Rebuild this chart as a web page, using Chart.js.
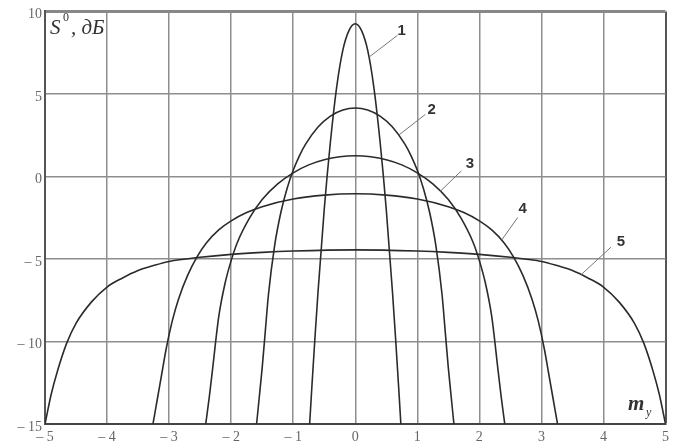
<!DOCTYPE html>
<html>
<head>
<meta charset="utf-8">
<style>
  html, body { margin: 0; padding: 0; background: #fff; }
  #wrap { width: 674px; height: 445px; }
</style>
</head>
<body>
<div id="wrap"><canvas id="c" width="674" height="445"></canvas></div>
<script src="https://cdn.jsdelivr.net/npm/chart.js@4/dist/chart.umd.min.js"></script>
<script>
// Normalised spectral level S0 (dB) versus m_y for five cases
const curve1X = [-0.735, -0.7, -0.65, -0.6, -0.5, -0.4, -0.3, -0.2, -0.1, 0, 0.1, 0.2, 0.3, 0.4, 0.5, 0.6, 0.65, 0.7, 0.735];
const curve1Y = [-15, -12.8, -9.8, -7.0, -2.0, 2.1, 5.4, 7.65, 8.85, 9.25, 8.85, 7.65, 5.4, 2.1, -2.0, -7.0, -9.8, -12.8, -15];

const curve2X = [-1.59, -1.55, -1.5, -1.45, -1.4, -1.3, -1.2, -1.1, -1.0, -0.9, -0.8, -0.6, -0.4, -0.2, 0, 0.2, 0.4, 0.6, 0.8, 0.9, 1.0, 1.1, 1.2, 1.3, 1.4, 1.45, 1.5, 1.55, 1.59];
const curve2Y = [-15, -13.5, -11.6, -9.4, -7.2, -4.2, -2.2, -0.75, 0.37, 1.25, 1.96, 3.0, 3.66, 4.03, 4.15, 4.03, 3.66, 3.0, 1.96, 1.25, 0.37, -0.75, -2.2, -4.2, -7.2, -9.4, -11.6, -13.5, -15];

const curve3X = [-2.41, -2.35, -2.3, -2.2, -2.1, -2.0, -1.9, -1.7, -1.5, -1.25, -1.0, -0.75, -0.5, -0.25, 0, 0.25, 0.5, 0.75, 1.0, 1.25, 1.5, 1.7, 1.9, 2.0, 2.1, 2.2, 2.3, 2.35, 2.41];
const curve3Y = [-15, -13.3, -11.7, -8.5, -6.5, -5.1, -4.0, -2.5, -1.4, -0.45, 0.22, 0.7, 1.01, 1.19, 1.25, 1.19, 1.01, 0.7, 0.22, -0.45, -1.4, -2.5, -4.0, -5.1, -6.5, -8.5, -11.7, -13.3, -15];

const curve4X = [-3.26, -3.19, -3.12, -3.05, -2.95, -2.85, -2.7, -2.55, -2.4, -2.2, -2.0, -1.75, -1.5, -1.0, -0.5, 0, 0.5, 1.0, 1.5, 1.75, 2.0, 2.2, 2.4, 2.55, 2.7, 2.85, 2.95, 3.05, 3.12, 3.19, 3.26];
const curve4Y = [-15, -13.5, -12.0, -10.5, -8.77, -7.45, -5.98, -4.87, -4.03, -3.24, -2.69, -2.19, -1.83, -1.37, -1.13, -1.05, -1.13, -1.37, -1.83, -2.19, -2.69, -3.24, -4.03, -4.87, -5.98, -7.45, -8.77, -10.5, -12.0, -13.5, -15];

const curve5X = [-5.0, -4.9, -4.8, -4.65, -4.5, -4.25, -4.0, -3.75, -3.5, -3.25, -3.0, -2.5, -2.0, -1.5, -1.0, 0, 1.0, 1.5, 2.0, 2.5, 3.0, 3.25, 3.5, 3.75, 4.0, 4.25, 4.5, 4.65, 4.8, 4.9, 5.0];
const curve5Y = [-15, -13.2, -11.8, -10.1, -8.9, -7.6, -6.7, -6.15, -5.7, -5.4, -5.15, -4.9, -4.72, -4.6, -4.52, -4.45, -4.52, -4.6, -4.72, -4.9, -5.15, -5.4, -5.7, -6.15, -6.7, -7.6, -8.9, -10.1, -11.8, -13.2, -15];

const curveNames = ['1', '2', '3', '4', '5'];
const xTicks = [-5, -4, -3, -2, -1, 0, 1, 2, 3, 4, 5];
const yTicks = [-15, -10, -5, 0, 5, 10];

// Curve number callouts in data units: text centre, leader start, leader end on the curve
const callouts = [
  { text: '1', at: [0.75, 8.8],   from: [0.68, 8.55],  to: [0.23, 7.25] },
  { text: '2', at: [1.23, 4.06],  from: [1.13, 3.76],  to: [0.70, 2.5] },
  { text: '3', at: [1.85, 0.74],  from: [1.71, 0.34],  to: [1.37, -0.9] },
  { text: '4', at: [2.70, -1.97], from: [2.62, -2.48], to: [2.36, -3.85] },
  { text: '5', at: [4.28, -3.99], from: [4.12, -4.29], to: [3.64, -5.95] }
];

const series = [
  [curve1X, curve1Y], [curve2X, curve2Y], [curve3X, curve3Y], [curve4X, curve4Y], [curve5X, curve5Y]
];

const datasets = series.map(([xs, ys], i) => ({
  label: curveNames[i],
  data: xs.map((x, k) => ({ x: x, y: ys[k] })),
  showLine: true,
  borderColor: '#2b2b2b',
  borderWidth: 1.6,
  pointRadius: 0,
  cubicInterpolationMode: 'monotone',
  fill: false
}));

const fmt = v => (v < 0 ? '\u2013 ' + Math.abs(v) : String(v));

const decorations = {
  id: 'decorations',
  afterDraw(chart) {
    const { ctx, scales: { x, y } } = chart;
    ctx.save();

    // axis titles
    ctx.fillStyle = '#333';
    ctx.textBaseline = 'alphabetic';
    ctx.textAlign = 'left';
    ctx.font = 'italic 21px "Liberation Serif"';
    ctx.fillText('S', 50, 34);
    ctx.font = '12px "Liberation Serif"';
    ctx.fillText('0', 63, 21);
    ctx.font = 'italic 21px "Liberation Serif"';
    ctx.fillText(', \u0434\u0411', 71, 34);

    ctx.font = 'italic bold 21px "Liberation Serif"';
    ctx.fillText('m', 628, 410);
    ctx.font = 'italic 12px "Liberation Serif"';
    ctx.fillText('y', 646, 416);

    // curve callouts
    ctx.strokeStyle = '#777';
    ctx.lineWidth = 1;
    ctx.font = 'bold 15px "Liberation Sans"';
    ctx.textAlign = 'center';
    ctx.textBaseline = 'middle';
    callouts.forEach(c => {
      ctx.beginPath();
      ctx.moveTo(x.getPixelForValue(c.from[0]), y.getPixelForValue(c.from[1]));
      ctx.lineTo(x.getPixelForValue(c.to[0]), y.getPixelForValue(c.to[1]));
      ctx.stroke();
      ctx.fillStyle = '#333';
      ctx.fillText(c.text, x.getPixelForValue(c.at[0]), y.getPixelForValue(c.at[1]));
    });
    ctx.restore();
  }
};

new Chart(document.getElementById('c'), {
  type: 'scatter',
  data: { datasets },
  options: {
    responsive: false,
    animation: false,
    layout: { padding: { top: 10, right: 6, left: 0, bottom: 0 } },
    plugins: { legend: { display: false }, tooltip: { enabled: false } },
    scales: {
      x: {
        type: 'linear',
        min: -5, max: 5,
        afterBuildTicks: s => { s.ticks = xTicks.map(v => ({ value: v })); },
        afterFit: s => { s.height = 21; },
        ticks: {
          callback: v => fmt(v),
          color: '#666',
          font: { family: 'Liberation Serif', size: 14 },
          padding: 5,
          maxRotation: 0
        },
        grid: {
          drawTicks: false,
          color: c => (c.tick && c.tick.value === 5 ? '#555' : '#8e8e8e'),
          lineWidth: c => (c.tick && c.tick.value === 5 ? 2 : 1.5)
        },
        border: { color: '#444', width: 2 }
      },
      y: {
        type: 'linear',
        min: -15, max: 10,
        afterBuildTicks: s => { s.ticks = yTicks.map(v => ({ value: v })); },
        afterFit: s => { s.width = 45; },
        ticks: {
          callback: v => fmt(v),
          color: '#666',
          font: { family: 'Liberation Serif', size: 14 },
          padding: 3,
          labelOffset: 3
        },
        grid: {
          drawTicks: false,
          color: c => (c.tick && c.tick.value === 10 ? '#888' : '#8e8e8e'),
          lineWidth: c => (c.tick && c.tick.value === 10 ? 3 : 1.5)
        },
        border: { color: '#555', width: 2 }
      }
    }
  },
  plugins: [decorations]
});
</script>
</body>
</html>
